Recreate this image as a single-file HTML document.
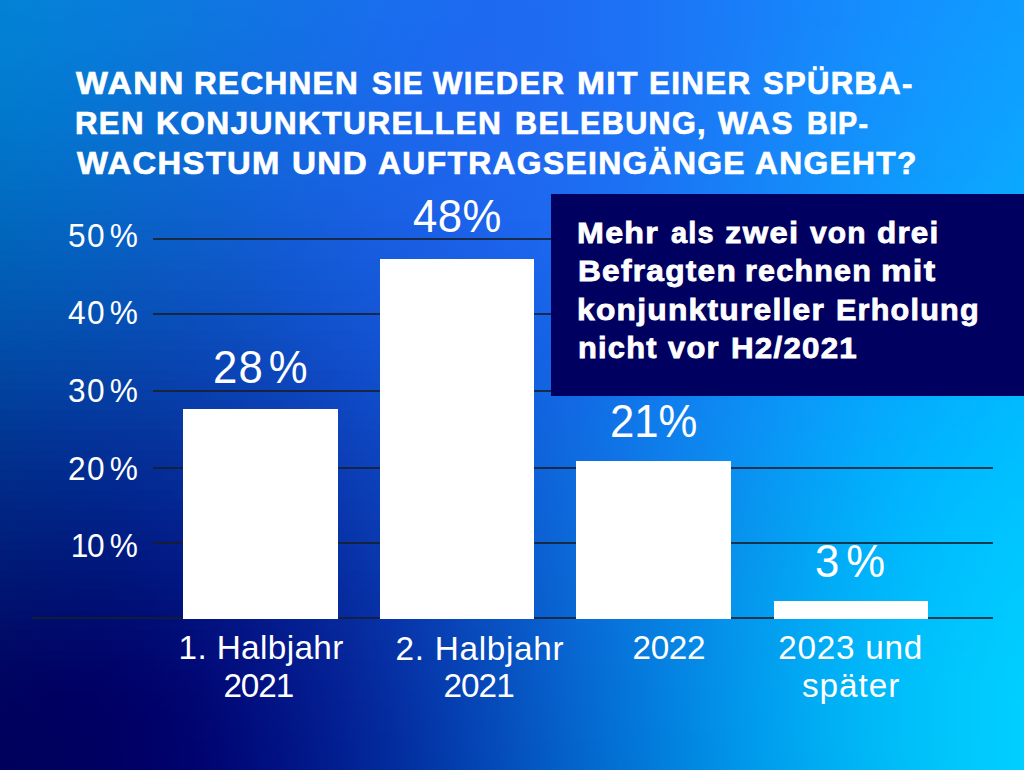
<!DOCTYPE html>
<html><head><meta charset="utf-8">
<style>
html,body{margin:0;padding:0;}
body{width:1024px;height:770px;overflow:hidden;position:relative;background:#0a5bd0;font-family:"Liberation Sans",sans-serif;color:#fff;}
#bg i{position:absolute;left:0;width:1024px;display:block;}
.a{position:absolute;white-space:nowrap;line-height:1;transform-origin:0 0;}
.tt{font-weight:bold;font-size:30.8px;-webkit-text-stroke:0.7px #fff;}
.bt{font-weight:bold;font-size:29.2px;-webkit-text-stroke:0.8px #fff;}
.yl{font-size:34px;letter-spacing:1.559px;transform:scaleX(0.93);}
.vl{font-size:47px;transform:scaleX(0.93);}
.xl{font-size:33.3px;}
.g{position:absolute;height:2px;background:rgba(24,30,40,0.82);}
.bar{position:absolute;background:#fff;}
.box{position:absolute;left:551px;top:194px;width:473px;height:202px;background:#000060;}
</style></head><body>
<div id="bg">
<i style="top:0px;height:10px;background:linear-gradient(90deg,#0282d5 0px,#0581d8 48px,#077eda 96px,#0a7bdc 144px,#0d78df 192px,#1075e2 240px,#1372e5 288px,#1670e9 336px,#196eed 384px,#1b6cef 432px,#1d6af0 480px,#1e6bf1 528px,#1e6df3 576px,#1d71f4 624px,#1c76f6 672px,#1a7bf8 720px,#1881fa 768px,#1687fc 816px,#158dfd 864px,#1392ff 912px,#1196ff 960px,#0f9bff 1008px,#0f9dff 1024px)"></i>
<i style="top:10px;height:10px;background:linear-gradient(90deg,#0281d4 0px,#0580d7 48px,#077dd9 96px,#0a7adc 144px,#0d77de 192px,#1074e1 240px,#1372e5 288px,#166fe9 336px,#196eed 384px,#1b6cef 432px,#1d6af0 480px,#1e6af1 528px,#1e6df3 576px,#1d71f4 624px,#1c76f6 672px,#1a7bf8 720px,#1881f9 768px,#1687fb 816px,#158dfd 864px,#1392ff 912px,#1197ff 960px,#0f9bff 1008px,#0f9dff 1024px)"></i>
<i style="top:20px;height:10px;background:linear-gradient(90deg,#0281d3 0px,#047fd6 48px,#077dd9 96px,#0a7adb 144px,#0d77de 192px,#1074e1 240px,#1371e5 288px,#166fe9 336px,#196ded 384px,#1b6bef 432px,#1d6af0 480px,#1e6af1 528px,#1e6df3 576px,#1d71f4 624px,#1c76f6 672px,#1a7bf7 720px,#1881f9 768px,#1687fb 816px,#148dfd 864px,#1393ff 912px,#1197ff 960px,#0f9cff 1008px,#0e9dff 1024px)"></i>
<i style="top:30px;height:10px;background:linear-gradient(90deg,#0280d3 0px,#047fd6 48px,#077cd8 96px,#0a79db 144px,#0d76dd 192px,#1073e0 240px,#1370e4 288px,#166ee9 336px,#196ded 384px,#1c6bef 432px,#1d69f0 480px,#1e6af1 528px,#1e6df3 576px,#1d71f4 624px,#1c76f6 672px,#1a7bf7 720px,#1881f9 768px,#1688fb 816px,#148efd 864px,#1393ff 912px,#1198ff 960px,#0f9cff 1008px,#0e9eff 1024px)"></i>
<i style="top:40px;height:10px;background:linear-gradient(90deg,#027fd2 0px,#047ed5 48px,#077bd8 96px,#0a78da 144px,#0d75dd 192px,#1072e0 240px,#1370e4 288px,#166ee9 336px,#196cec 384px,#1c6aef 432px,#1e69f0 480px,#1e6af1 528px,#1e6df3 576px,#1d71f4 624px,#1c76f6 672px,#1a7bf7 720px,#1882f9 768px,#1688fb 816px,#148efd 864px,#1294ff 912px,#1098ff 960px,#0f9dff 1008px,#0e9fff 1024px)"></i>
<i style="top:50px;height:10px;background:linear-gradient(90deg,#017fd1 0px,#047dd4 48px,#077ad7 96px,#0a77d9 144px,#0d74dc 192px,#1071e0 240px,#146fe4 288px,#176de8 336px,#196cec 384px,#1c6aef 432px,#1e69f0 480px,#1e6af1 528px,#1e6df2 576px,#1d71f4 624px,#1c76f6 672px,#1a7cf7 720px,#1882f9 768px,#1688fb 816px,#148ffd 864px,#1294ff 912px,#1099ff 960px,#0f9eff 1008px,#0e9fff 1024px)"></i>
<i style="top:60px;height:10px;background:linear-gradient(90deg,#017ed1 0px,#047cd4 48px,#0779d6 96px,#0a76d9 144px,#0d73dc 192px,#1170df 240px,#146ee4 288px,#176ce8 336px,#1a6bec 384px,#1c6aee 432px,#1e69f0 480px,#1f6af1 528px,#1e6cf2 576px,#1d71f4 624px,#1c76f6 672px,#1a7cf7 720px,#1882f9 768px,#1689fb 816px,#148ffd 864px,#1295fe 912px,#1099ff 960px,#0e9eff 1008px,#0ea0ff 1024px)"></i>
<i style="top:70px;height:10px;background:linear-gradient(90deg,#017dd0 0px,#047bd3 48px,#0779d5 96px,#0a75d8 144px,#0d72db 192px,#1170df 240px,#146de3 288px,#176ce8 336px,#1a6aec 384px,#1c69ee 432px,#1e69f0 480px,#1f6af1 528px,#1e6cf2 576px,#1d71f4 624px,#1c76f5 672px,#1a7cf7 720px,#1882f9 768px,#1689fb 816px,#148ffd 864px,#1295fe 912px,#109aff 960px,#0e9fff 1008px,#0ea0ff 1024px)"></i>
<i style="top:80px;height:10px;background:linear-gradient(90deg,#017ccf 0px,#047ad2 48px,#0778d4 96px,#0a74d7 144px,#0e71da 192px,#116fde 240px,#146de3 288px,#176be7 336px,#1a6aeb 384px,#1c69ee 432px,#1e68f0 480px,#1f6af1 528px,#1e6cf2 576px,#1d71f4 624px,#1c76f5 672px,#1a7cf7 720px,#1882f9 768px,#1689fb 816px,#1490fd 864px,#1296fe 912px,#109bff 960px,#0ea0ff 1008px,#0da1ff 1024px)"></i>
<i style="top:90px;height:10px;background:linear-gradient(90deg,#017bce 0px,#0379d1 48px,#0776d4 96px,#0a73d6 144px,#0e70da 192px,#116ede 240px,#146ce2 288px,#176ae7 336px,#1a69eb 384px,#1c68ee 432px,#1e68ef 480px,#1f69f1 528px,#1e6cf2 576px,#1d71f4 624px,#1c76f5 672px,#1a7cf7 720px,#1883f9 768px,#168afb 816px,#1490fd 864px,#1296fe 912px,#109bff 960px,#0ea0ff 1008px,#0da2ff 1024px)"></i>
<i style="top:100px;height:10px;background:linear-gradient(90deg,#017acd 0px,#0378d0 48px,#0775d3 96px,#0a72d5 144px,#0e6fd9 192px,#116ddd 240px,#146be2 288px,#1769e7 336px,#1a68eb 384px,#1c68ed 432px,#1e68ef 480px,#1f69f1 528px,#1e6cf2 576px,#1d71f4 624px,#1c76f5 672px,#1a7cf7 720px,#1883f9 768px,#158afb 816px,#1390fd 864px,#1196fe 912px,#0f9cff 960px,#0ea1ff 1008px,#0da2ff 1024px)"></i>
<i style="top:110px;height:10px;background:linear-gradient(90deg,#0079cc 0px,#0377cf 48px,#0774d2 96px,#0a71d5 144px,#0e6ed8 192px,#116cdd 240px,#146ae2 288px,#1769e6 336px,#1a68ea 384px,#1c67ed 432px,#1e68ef 480px,#1f69f1 528px,#1e6cf2 576px,#1d71f4 624px,#1b76f5 672px,#1a7df7 720px,#1783f9 768px,#158afb 816px,#1391fd 864px,#1197fe 912px,#0f9cff 960px,#0da2ff 1008px,#0da3ff 1024px)"></i>
<i style="top:120px;height:10px;background:linear-gradient(90deg,#0077cb 0px,#0376ce 48px,#0773d1 96px,#0a70d4 144px,#0e6dd7 192px,#116bdc 240px,#1469e1 288px,#1768e6 336px,#1a67ea 384px,#1c67ed 432px,#1e67ef 480px,#1f69f1 528px,#1e6cf2 576px,#1d71f4 624px,#1b76f5 672px,#197df7 720px,#1784f9 768px,#158bfb 816px,#1391fc 864px,#1197fe 912px,#0f9dff 960px,#0da2ff 1008px,#0da4ff 1024px)"></i>
<i style="top:130px;height:10px;background:linear-gradient(90deg,#0076ca 0px,#0374cd 48px,#0772d0 96px,#0a6ed3 144px,#0e6cd6 192px,#116adb 240px,#1468e0 288px,#1767e5 336px,#1a66e9 384px,#1c66ec 432px,#1e67ef 480px,#1f69f0 528px,#1e6cf2 576px,#1d71f4 624px,#1b77f5 672px,#197df7 720px,#1784f8 768px,#158bfb 816px,#1392fc 864px,#1198fe 912px,#0f9eff 960px,#0da3ff 1008px,#0ca5ff 1024px)"></i>
<i style="top:140px;height:10px;background:linear-gradient(90deg,#0074c9 0px,#0373cc 48px,#0770ce 96px,#0a6dd1 144px,#0e6bd5 192px,#1168da 240px,#1467e0 288px,#1766e5 336px,#1a66e9 384px,#1c66ec 432px,#1e67ee 480px,#1e69f0 528px,#1e6cf2 576px,#1d71f4 624px,#1b77f5 672px,#197df7 720px,#1784f8 768px,#158bfa 816px,#1292fc 864px,#1099fe 912px,#0e9efe 960px,#0da4ff 1008px,#0ca5ff 1024px)"></i>
<i style="top:150px;height:10px;background:linear-gradient(90deg,#0173c7 0px,#0371ca 48px,#076fcd 96px,#0a6cd0 144px,#0e69d4 192px,#1167d9 240px,#1466df 288px,#1765e4 336px,#1a65e8 384px,#1c65eb 432px,#1e66ee 480px,#1e69f0 528px,#1e6cf2 576px,#1d71f3 624px,#1b77f5 672px,#197ef7 720px,#1785f8 768px,#148cfa 816px,#1293fc 864px,#1099fe 912px,#0e9ffe 960px,#0ca4ff 1008px,#0ca6ff 1024px)"></i>
<i style="top:160px;height:10px;background:linear-gradient(90deg,#0171c6 0px,#0370c9 48px,#076dcc 96px,#0a6acf 144px,#0e68d3 192px,#1166d9 240px,#1465de 288px,#1764e3 336px,#1a64e7 384px,#1c65eb 432px,#1d66ee 480px,#1e69f0 528px,#1e6cf2 576px,#1c71f3 624px,#1b77f5 672px,#187ef7 720px,#1685f8 768px,#148cfa 816px,#1293fc 864px,#109afd 912px,#0ea0fe 960px,#0ca5ff 1008px,#0ba7ff 1024px)"></i>
<i style="top:170px;height:10px;background:linear-gradient(90deg,#0170c5 0px,#036ec8 48px,#076ccb 96px,#0a69ce 144px,#0e67d2 192px,#1165d7 240px,#1464dd 288px,#1763e2 336px,#1a63e7 384px,#1c64ea 432px,#1d66ed 480px,#1e68ef 528px,#1d6cf1 576px,#1c71f3 624px,#1a77f5 672px,#187ef7 720px,#1686f8 768px,#148dfa 816px,#1194fc 864px,#0f9afd 912px,#0da0fe 960px,#0ca6ff 1008px,#0ba8ff 1024px)"></i>
<i style="top:180px;height:10px;background:linear-gradient(90deg,#016ec3 0px,#036dc6 48px,#076ac9 96px,#0a67cd 144px,#0e65d1 192px,#1164d6 240px,#1463dc 288px,#1762e2 336px,#1963e6 384px,#1b63e9 432px,#1d65ed 480px,#1e68ef 528px,#1d6cf1 576px,#1c71f3 624px,#1a77f5 672px,#187ff7 720px,#1686f8 768px,#138dfa 816px,#1195fc 864px,#0f9bfd 912px,#0da1fe 960px,#0ba7ff 1008px,#0ba8ff 1024px)"></i>
<i style="top:190px;height:10px;background:linear-gradient(90deg,#016cc2 0px,#036bc5 48px,#0768c8 96px,#0a66cb 144px,#0d64d0 192px,#1162d5 240px,#1462db 288px,#1761e1 336px,#1962e5 384px,#1b63e9 432px,#1d65ec 480px,#1d68ef 528px,#1d6cf1 576px,#1b71f3 624px,#1a78f5 672px,#177ff6 720px,#1586f8 768px,#138efa 816px,#1195fc 864px,#0f9cfd 912px,#0da2fe 960px,#0ba7ff 1008px,#0aa9ff 1024px)"></i>
<i style="top:200px;height:10px;background:linear-gradient(90deg,#016ac0 0px,#0369c3 48px,#0767c6 96px,#0a64ca 144px,#0d62ce 192px,#1061d4 240px,#1460da 288px,#1660e0 336px,#1961e4 384px,#1b62e8 432px,#1c64eb 480px,#1d67ee 528px,#1c6bf0 576px,#1b71f2 624px,#1978f4 672px,#177ff6 720px,#1587f8 768px,#138ffa 816px,#1096fc 864px,#0e9cfd 912px,#0ca3fe 960px,#0ba8ff 1008px,#0aaaff 1024px)"></i>
<i style="top:210px;height:10px;background:linear-gradient(90deg,#0169bf 0px,#0367c2 48px,#0765c5 96px,#0a63c8 144px,#0d61cd 192px,#1060d3 240px,#135fd9 288px,#165fde 336px,#1960e3 384px,#1a61e7 432px,#1c63eb 480px,#1d67ee 528px,#1c6bf0 576px,#1b71f2 624px,#1978f4 672px,#1780f6 720px,#1487f8 768px,#128ffa 816px,#1096fc 864px,#0e9dfd 912px,#0ca3fe 960px,#0aa9ff 1008px,#0aabff 1024px)"></i>
<i style="top:220px;height:10px;background:linear-gradient(90deg,#0167bd 0px,#0365c0 48px,#0763c4 96px,#0a61c7 144px,#0d5fcb 192px,#105ed1 240px,#135ed7 288px,#165edd 336px,#185fe2 384px,#1a60e6 432px,#1b63ea 480px,#1c66ed 528px,#1b6bef 576px,#1a71f2 624px,#1878f4 672px,#1680f6 720px,#1488f8 768px,#1290fa 816px,#0f97fc 864px,#0d9efd 912px,#0ba4fe 960px,#0aaaff 1008px,#09acff 1024px)"></i>
<i style="top:230px;height:10px;background:linear-gradient(90deg,#0165bc 0px,#0364bf 48px,#0661c2 96px,#0a5fc5 144px,#0d5eca 192px,#105dd0 240px,#135dd6 288px,#155ddc 336px,#185ee1 384px,#1a60e5 432px,#1b62e9 480px,#1b66ec 528px,#1b6aef 576px,#1a71f1 624px,#1878f4 672px,#1680f6 720px,#1488f8 768px,#1190fa 816px,#0f98fc 864px,#0d9ffd 912px,#0ba5fe 960px,#09abff 1008px,#09acff 1024px)"></i>
<i style="top:240px;height:10px;background:linear-gradient(90deg,#0163ba 0px,#0362bd 48px,#0660c0 96px,#095dc4 144px,#0c5cc8 192px,#0f5bce 240px,#125bd4 288px,#155cdb 336px,#175de0 384px,#195fe4 432px,#1a61e8 480px,#1b65ec 528px,#1a6aee 576px,#1971f1 624px,#1878f4 672px,#1581f6 720px,#1389f8 768px,#1191fa 816px,#0f98fc 864px,#0c9ffd 912px,#0ba6fe 960px,#09abff 1008px,#09adff 1024px)"></i>
<i style="top:250px;height:10px;background:linear-gradient(90deg,#0161b9 0px,#0360bc 48px,#065ebf 96px,#095cc2 144px,#0c5ac7 192px,#0f5acc 240px,#125ad3 288px,#155bd9 336px,#175cdf 384px,#195ee3 432px,#1a61e7 480px,#1a64eb 528px,#1a6aee 576px,#1971f1 624px,#1779f3 672px,#1581f6 720px,#1389f8 768px,#1092fa 816px,#0e99fc 864px,#0ca0fd 912px,#0aa6fe 960px,#09acff 1008px,#08aeff 1024px)"></i>
<i style="top:260px;height:10px;background:linear-gradient(90deg,#015fb7 0px,#035eba 48px,#065cbd 96px,#095ac0 144px,#0c59c5 192px,#0f58cb 240px,#1159d1 288px,#145ad8 336px,#175bdd 384px,#185de2 432px,#1960e6 480px,#1a64ea 528px,#196aed 576px,#1871f0 624px,#1779f3 672px,#1581f6 720px,#128af8 768px,#1092fa 816px,#0e9afc 864px,#0ba1fd 912px,#0aa7fe 960px,#08adff 1008px,#08afff 1024px)"></i>
<i style="top:270px;height:10px;background:linear-gradient(90deg,#015db5 0px,#035cb8 48px,#065abb 96px,#0958bf 144px,#0c57c3 192px,#0e57c9 240px,#1157d0 288px,#1459d6 336px,#165adc 384px,#185ce1 432px,#195fe5 480px,#1963e9 528px,#1969ed 576px,#1871f0 624px,#1679f3 672px,#1482f6 720px,#128bf8 768px,#0f93fa 816px,#0d9bfc 864px,#0ba2fd 912px,#09a8fe 960px,#08aeff 1008px,#07b0ff 1024px)"></i>
<i style="top:280px;height:10px;background:linear-gradient(90deg,#015bb3 0px,#035ab7 48px,#0658ba 96px,#0956bd 144px,#0b55c1 192px,#0e55c7 240px,#1156ce 288px,#1357d5 336px,#1659db 384px,#175be0 432px,#185ee4 480px,#1963e8 528px,#1869ec 576px,#1771ef 624px,#1679f2 672px,#1482f5 720px,#118bf8 768px,#0f94fa 816px,#0d9bfc 864px,#0aa3fd 912px,#09a9fe 960px,#07afff 1008px,#07b1ff 1024px)"></i>
<i style="top:290px;height:10px;background:linear-gradient(90deg,#0159b2 0px,#0358b5 48px,#0656b8 96px,#0854bb 144px,#0b53c0 192px,#0d53c5 240px,#1054cc 288px,#1356d3 336px,#1558d9 384px,#175bdf 432px,#185ee3 480px,#1862e8 528px,#1769eb 576px,#1771ef 624px,#157af2 672px,#1383f5 720px,#118cf8 768px,#0e94fa 816px,#0c9cfc 864px,#0aa3fd 912px,#08aafe 960px,#07b0ff 1008px,#06b1ff 1024px)"></i>
<i style="top:300px;height:10px;background:linear-gradient(90deg,#0157b0 0px,#0356b3 48px,#0554b6 96px,#0852b9 144px,#0b51be 192px,#0d51c3 240px,#1053ca 288px,#1355d2 336px,#1557d8 384px,#165add 432px,#175de2 480px,#1762e7 528px,#1768eb 576px,#1671ee 624px,#157af2 672px,#1383f5 720px,#108cf8 768px,#0e95fa 816px,#0c9dfc 864px,#09a4fd 912px,#08abfe 960px,#06b1ff 1008px,#06b2ff 1024px)"></i>
<i style="top:310px;height:10px;background:linear-gradient(90deg,#0155ae 0px,#0353b1 48px,#0551b4 96px,#0850b7 144px,#0a4fbc 192px,#0d50c2 240px,#0f51c9 288px,#1253d0 336px,#1456d6 384px,#1659dc 432px,#165ce1 480px,#1761e6 528px,#1668ea 576px,#1571ee 624px,#147af2 672px,#1284f5 720px,#108df8 768px,#0d96fa 816px,#0b9efc 864px,#09a5fd 912px,#07acfe 960px,#06b1ff 1008px,#06b3ff 1024px)"></i>
<i style="top:320px;height:10px;background:linear-gradient(90deg,#0152ac 0px,#0351af 48px,#054fb2 96px,#084eb5 144px,#0a4dba 192px,#0d4ec0 240px,#0f4fc7 288px,#1252ce 336px,#1455d5 384px,#1558db 432px,#165ce0 480px,#1661e5 528px,#1668e9 576px,#1571ed 624px,#137bf1 672px,#1284f5 720px,#0f8ef8 768px,#0d97fa 816px,#0a9ffc 864px,#08a6fd 912px,#07acfe 960px,#05b2ff 1008px,#05b4ff 1024px)"></i>
<i style="top:330px;height:10px;background:linear-gradient(90deg,#0150aa 0px,#034fad 48px,#054db0 96px,#084bb3 144px,#0a4bb8 192px,#0c4cbe 240px,#0f4ec5 288px,#1150cc 336px,#1354d3 384px,#1457da 432px,#155bdf 480px,#1560e4 528px,#1568e9 576px,#1471ed 624px,#137bf1 672px,#1185f4 720px,#0f8ef7 768px,#0c97fa 816px,#0aa0fc 864px,#08a7fd 912px,#06adfe 960px,#05b3ff 1008px,#05b5ff 1024px)"></i>
<i style="top:340px;height:10px;background:linear-gradient(90deg,#014da8 0px,#034cab 48px,#054aae 96px,#0749b1 144px,#0a49b6 192px,#0c4abc 240px,#0e4cc3 288px,#114fcb 336px,#1352d2 384px,#1456d8 432px,#155bde 480px,#1560e3 528px,#1568e8 576px,#1472ec 624px,#127bf0 672px,#1185f4 720px,#0e8ff7 768px,#0c98fa 816px,#09a0fc 864px,#07a8fd 912px,#06aefe 960px,#05b4ff 1008px,#04b6ff 1024px)"></i>
<i style="top:350px;height:10px;background:linear-gradient(90deg,#014ba6 0px,#034aa9 48px,#0548ab 96px,#0747af 144px,#0947b4 192px,#0c48ba 240px,#0e4ac1 288px,#104ec9 336px,#1251d0 384px,#1355d7 432px,#145add 480px,#1460e2 528px,#1468e7 576px,#1372ec 624px,#127cf0 672px,#1086f4 720px,#0e90f7 768px,#0b99fa 816px,#09a1fc 864px,#07a9fd 912px,#05affe 960px,#04b5ff 1008px,#04b7ff 1024px)"></i>
<i style="top:360px;height:10px;background:linear-gradient(90deg,#0148a3 0px,#0347a6 48px,#0546a9 96px,#0745ad 144px,#0945b2 192px,#0b46b8 240px,#0e49bf 288px,#104cc7 336px,#1250ce 384px,#1355d5 432px,#145adc 480px,#1460e1 528px,#1369e6 576px,#1372eb 624px,#117cf0 672px,#1086f3 720px,#0d90f7 768px,#0b9afa 816px,#08a2fc 864px,#06aafd 912px,#05b0fe 960px,#04b6ff 1008px,#03b7ff 1024px)"></i>
<i style="top:370px;height:10px;background:linear-gradient(90deg,#0146a1 0px,#0344a4 48px,#0543a7 96px,#0742ab 144px,#0943b0 192px,#0b44b6 240px,#0d47bd 288px,#0f4ac5 336px,#114fcd 384px,#1254d4 432px,#135ada 480px,#1360e0 528px,#1369e6 576px,#1273eb 624px,#117def 672px,#0f87f3 720px,#0d91f7 768px,#0a9afa 816px,#08a3fc 864px,#06aafd 912px,#04b1fe 960px,#03b7ff 1008px,#03b8ff 1024px)"></i>
<i style="top:380px;height:10px;background:linear-gradient(90deg,#01439f 0px,#0342a2 48px,#0541a5 96px,#0740a8 144px,#0940ad 192px,#0b42b4 240px,#0d45bb 288px,#0f49c3 336px,#104ecb 384px,#1253d3 432px,#1259d9 480px,#1361df 528px,#1269e5 576px,#1273ea 624px,#117def 672px,#0f88f3 720px,#0c92f7 768px,#0a9bfa 816px,#07a4fc 864px,#05abfe 912px,#04b2fe 960px,#03b7ff 1008px,#03b9ff 1024px)"></i>
<i style="top:390px;height:10px;background:linear-gradient(90deg,#01409d 0px,#033fa0 48px,#043ea2 96px,#063ea6 144px,#083eab 192px,#0a40b2 240px,#0c43b9 288px,#0e47c2 336px,#104cca 384px,#1152d1 432px,#1259d8 480px,#1261de 528px,#126ae4 576px,#1173e9 624px,#107eee 672px,#0e88f2 720px,#0c92f6 768px,#099cfa 816px,#07a5fc 864px,#05acfe 912px,#03b3fe 960px,#02b8ff 1008px,#02baff 1024px)"></i>
<i style="top:400px;height:10px;background:linear-gradient(90deg,#013e9a 0px,#033d9d 48px,#043ca0 96px,#063ba4 144px,#083ca9 192px,#0a3eb0 240px,#0c41b7 288px,#0e46c0 336px,#0f4bc8 384px,#1151d0 432px,#1158d7 480px,#1261de 528px,#116ae4 576px,#1174e9 624px,#107eee 672px,#0e89f2 720px,#0b93f6 768px,#099df9 816px,#06a6fc 864px,#04adfe 912px,#03b4fe 960px,#02b9ff 1008px,#02bbff 1024px)"></i>
<i style="top:410px;height:10px;background:linear-gradient(90deg,#013b98 0px,#023a9b 48px,#04399e 96px,#0639a1 144px,#083aa7 192px,#0a3cae 240px,#0b40b5 288px,#0d44be 336px,#0f4ac6 384px,#1050ce 432px,#1158d6 480px,#1161dd 528px,#116ae3 576px,#1074e8 624px,#0f7fed 672px,#0d89f2 720px,#0b94f6 768px,#089ef9 816px,#06a7fc 864px,#04aefe 912px,#02b4fe 960px,#02baff 1008px,#02bbff 1024px)"></i>
<i style="top:420px;height:10px;background:linear-gradient(90deg,#013996 0px,#023799 48px,#04379c 96px,#06379f 144px,#0738a5 192px,#093aac 240px,#0b3eb3 288px,#0d43bc 336px,#0e49c5 384px,#1050cd 432px,#1058d4 480px,#1161dc 528px,#106be2 576px,#1075e8 624px,#0f7fed 672px,#0d8af1 720px,#0b94f6 768px,#089ef9 816px,#05a7fc 864px,#03affe 912px,#02b5ff 960px,#01bbff 1008px,#01bcff 1024px)"></i>
<i style="top:430px;height:10px;background:linear-gradient(90deg,#013693 0px,#023596 48px,#043499 96px,#05349d 144px,#0735a2 192px,#0938a9 240px,#0b3cb2 288px,#0c41ba 336px,#0e47c3 384px,#0f4fcb 432px,#1057d3 480px,#1061db 528px,#106be1 576px,#0f75e7 624px,#0e7fec 672px,#0d8af1 720px,#0a95f5 768px,#079ff9 816px,#05a8fc 864px,#03b0fe 912px,#02b6ff 960px,#01bbff 1008px,#01bdff 1024px)"></i>
<i style="top:440px;height:10px;background:linear-gradient(90deg,#013491 0px,#023294 48px,#033297 96px,#05329b 144px,#0733a0 192px,#0836a7 240px,#0a3ab0 288px,#0c40b8 336px,#0e46c1 384px,#0f4eca 432px,#1057d2 480px,#1061da 528px,#106be1 576px,#0f75e6 624px,#0e80ec 672px,#0c8af0 720px,#0a95f5 768px,#07a0f9 816px,#04a9fc 864px,#02b1fe 912px,#01b7ff 960px,#01bcff 1008px,#01beff 1024px)"></i>
<i style="top:450px;height:10px;background:linear-gradient(90deg,#01318f 0px,#023092 48px,#032f95 96px,#053099 144px,#06319e 192px,#0834a5 240px,#0a38ae 288px,#0c3eb6 336px,#0d45bf 384px,#0e4dc8 432px,#0f56d1 480px,#0f61d9 528px,#0f6be0 576px,#0f75e6 624px,#0e80eb 672px,#0c8bf0 720px,#0996f4 768px,#06a0f9 816px,#04aafc 864px,#02b2fe 912px,#01b8ff 960px,#00bdff 1008px,#00beff 1024px)"></i>
<i style="top:460px;height:10px;background:linear-gradient(90deg,#012f8d 0px,#022e8f 48px,#032d92 96px,#042d96 144px,#062f9c 192px,#0832a3 240px,#0937ac 288px,#0b3db5 336px,#0d44be 384px,#0e4cc7 432px,#0f56d0 480px,#0f60d8 528px,#0f6bdf 576px,#0e76e5 624px,#0d80ea 672px,#0b8bef 720px,#0996f4 768px,#06a1f8 816px,#03abfc 864px,#02b3fe 912px,#01b9ff 960px,#00beff 1008px,#00bfff 1024px)"></i>
<i style="top:470px;height:10px;background:linear-gradient(90deg,#012d8a 0px,#012b8d 48px,#022b90 96px,#042b94 144px,#062d9a 192px,#0730a1 240px,#0935aa 288px,#0b3bb3 336px,#0c42bc 384px,#0d4bc5 432px,#0e55ce 480px,#0f60d7 528px,#0e6bde 576px,#0e76e4 624px,#0d81ea 672px,#0b8bef 720px,#0997f3 768px,#06a2f8 816px,#03acfc 864px,#01b4fe 912px,#00baff 960px,#00bfff 1008px,#00c0ff 1024px)"></i>
<i style="top:480px;height:10px;background:linear-gradient(90deg,#012a88 0px,#01298b 48px,#02298e 96px,#032992 144px,#052b98 192px,#072e9f 240px,#0933a8 288px,#0a39b1 336px,#0c41ba 384px,#0d4ac4 432px,#0e55cd 480px,#0e60d6 528px,#0e6bdd 576px,#0d76e4 624px,#0c81e9 672px,#0b8cee 720px,#0897f3 768px,#05a2f8 816px,#02acfc 864px,#01b5fe 912px,#00bbff 960px,#00c0ff 1008px,#00c1ff 1024px)"></i>
<i style="top:490px;height:10px;background:linear-gradient(90deg,#012886 0px,#012788 48px,#01268c 96px,#032790 144px,#052996 192px,#072c9d 240px,#0831a6 288px,#0a38af 336px,#0b40b9 384px,#0d49c3 432px,#0d54cc 480px,#0e5fd5 528px,#0e6bdd 576px,#0d76e3 624px,#0c81e9 672px,#0a8cee 720px,#0898f2 768px,#05a3f7 816px,#02adfb 864px,#01b6fe 912px,#00bcff 960px,#00c1ff 1008px,#00c2ff 1024px)"></i>
<i style="top:500px;height:10px;background:linear-gradient(90deg,#002683 0px,#012586 48px,#01248a 96px,#03258e 144px,#042693 192px,#062a9b 240px,#0830a4 288px,#0936ad 336px,#0b3fb7 384px,#0c49c1 432px,#0d53cb 480px,#0e5fd4 528px,#0d6bdc 576px,#0d76e2 624px,#0b81e8 672px,#0a8ded 720px,#0798f2 768px,#05a4f7 816px,#02aefb 864px,#01b6fe 912px,#00bdff 960px,#00c2ff 1008px,#00c3ff 1024px)"></i>
<i style="top:510px;height:10px;background:linear-gradient(90deg,#002481 0px,#012384 48px,#012287 96px,#02228c 144px,#042491 192px,#062899 240px,#072ea2 288px,#0935ab 336px,#0b3eb5 384px,#0c48c0 432px,#0d53ca 480px,#0d5fd3 528px,#0d6bdb 576px,#0c76e2 624px,#0b82e8 672px,#098dec 720px,#0799f1 768px,#04a4f7 816px,#02affb 864px,#01b7fd 912px,#00beff 960px,#00c2ff 1008px,#00c4ff 1024px)"></i>
<i style="top:520px;height:10px;background:linear-gradient(90deg,#00227f 0px,#002182 48px,#012085 96px,#022089 144px,#04228f 192px,#052697 240px,#072ca0 288px,#0933aa 336px,#0a3cb4 384px,#0b47be 432px,#0c52c8 480px,#0d5ed2 528px,#0d6ada 576px,#0c76e1 624px,#0b82e7 672px,#098dec 720px,#0799f1 768px,#04a5f6 816px,#02affb 864px,#00b8fd 912px,#00bfff 960px,#00c3ff 1008px,#00c5ff 1024px)"></i>
<i style="top:530px;height:10px;background:linear-gradient(90deg,#00207d 0px,#001f7f 48px,#001e83 96px,#021e87 144px,#03208d 192px,#052495 240px,#072a9e 288px,#0832a8 336px,#0a3bb2 384px,#0b46bd 432px,#0c52c7 480px,#0c5ed1 528px,#0c6ada 576px,#0c76e1 624px,#0a82e7 672px,#088eec 720px,#069af1 768px,#04a5f6 816px,#02b0fa 864px,#00b9fd 912px,#00bfff 960px,#00c4ff 1008px,#00c6ff 1024px)"></i>
<i style="top:540px;height:10px;background:linear-gradient(90deg,#001e7a 0px,#001d7d 48px,#001c80 96px,#011c85 144px,#031e8b 192px,#052393 240px,#06299c 288px,#0831a6 336px,#093ab1 384px,#0b45bb 432px,#0c51c6 480px,#0c5dd0 528px,#0c6ad9 576px,#0b76e0 624px,#0a82e6 672px,#088eeb 720px,#069af1 768px,#03a6f6 816px,#01b0fa 864px,#00b9fd 912px,#00c0ff 960px,#00c5ff 1008px,#00c6ff 1024px)"></i>
<i style="top:550px;height:10px;background:linear-gradient(90deg,#001c78 0px,#001b7b 48px,#00197e 96px,#011a83 144px,#031c89 192px,#042191 240px,#06279a 288px,#082fa4 336px,#0939af 384px,#0a44ba 432px,#0b50c5 480px,#0c5dcf 528px,#0c6ad8 576px,#0b76e0 624px,#0983e6 672px,#088feb 720px,#069bf0 768px,#03a7f6 816px,#01b1fa 864px,#00bafd 912px,#00c1fe 960px,#00c6ff 1008px,#00c7ff 1024px)"></i>
<i style="top:560px;height:10px;background:linear-gradient(90deg,#001a76 0px,#001878 48px,#00177c 96px,#011881 144px,#031a87 192px,#041f8f 240px,#062698 288px,#072ea3 336px,#0938ad 384px,#0a43b9 432px,#0b50c4 480px,#0b5dce 528px,#0b6ad8 576px,#0a76df 624px,#0983e5 672px,#078feb 720px,#059bf0 768px,#03a7f5 816px,#01b2fa 864px,#00bafc 912px,#00c1fe 960px,#00c6ff 1008px,#00c8ff 1024px)"></i>
<i style="top:570px;height:10px;background:linear-gradient(90deg,#001874 0px,#001676 48px,#00157a 96px,#01167e 144px,#021885 192px,#041d8d 240px,#052497 288px,#072ca1 336px,#0836ac 384px,#0a42b7 432px,#0b4fc3 480px,#0b5cce 528px,#0b69d7 576px,#0a76df 624px,#0983e5 672px,#078feb 720px,#059cf0 768px,#03a8f5 816px,#01b2f9 864px,#00bbfc 912px,#00c2fe 960px,#00c7ff 1008px,#00c8ff 1024px)"></i>
<i style="top:580px;height:10px;background:linear-gradient(90deg,#001672 0px,#001474 48px,#001377 96px,#01147c 144px,#021783 192px,#041c8c 240px,#052395 288px,#072b9f 336px,#0835ab 384px,#0941b6 432px,#0a4ec2 480px,#0b5ccd 528px,#0b69d6 576px,#0a76de 624px,#0883e5 672px,#0690eb 720px,#049cf0 768px,#03a8f5 816px,#01b3f9 864px,#00bbfc 912px,#00c2fe 960px,#00c7ff 1008px,#00c9ff 1024px)"></i>
<i style="top:590px;height:10px;background:linear-gradient(90deg,#001470 0px,#001272 48px,#001175 96px,#01127a 144px,#021581 192px,#031a8a 240px,#052194 288px,#062a9e 336px,#0834a9 384px,#0940b5 432px,#0a4ec1 480px,#0a5bcc 528px,#0a69d6 576px,#0976de 624px,#0883e4 672px,#0690ea 720px,#049df0 768px,#02a9f5 816px,#01b3f9 864px,#00bcfc 912px,#00c3fe 960px,#00c8ff 1008px,#00caff 1024px)"></i>
<i style="top:600px;height:10px;background:linear-gradient(90deg,#00126e 0px,#001070 48px,#000f73 96px,#011078 144px,#02137f 192px,#031888 240px,#052092 288px,#06299d 336px,#0733a8 384px,#0940b4 432px,#0a4dc0 480px,#0a5bcb 528px,#0a68d5 576px,#0976dd 624px,#0783e4 672px,#0690ea 720px,#049df0 768px,#02a9f5 816px,#01b4f9 864px,#00bcfc 912px,#00c3fe 960px,#00c9ff 1008px,#00caff 1024px)"></i>
<i style="top:610px;height:10px;background:linear-gradient(90deg,#00106c 0px,#000e6e 48px,#000d71 96px,#010e76 144px,#02117d 192px,#031787 240px,#041e91 288px,#06289b 336px,#0732a7 384px,#083fb3 432px,#094cbf 480px,#0a5aca 528px,#0968d4 576px,#0876dd 624px,#0783e4 672px,#0590ea 720px,#049df0 768px,#02a9f5 816px,#01b4f9 864px,#00bdfc 912px,#00c4fe 960px,#00c9ff 1008px,#00cbff 1024px)"></i>
<i style="top:620px;height:10px;background:linear-gradient(90deg,#000e6a 0px,#000c6c 48px,#000b6f 96px,#010c74 144px,#01107c 192px,#031585 240px,#041d8f 288px,#06279a 336px,#0731a6 384px,#083eb2 432px,#094cbe 480px,#095ac9 528px,#0968d4 576px,#0876dc 624px,#0683e4 672px,#0591ea 720px,#039ef0 768px,#02aaf4 816px,#01b5f8 864px,#00bdfb 912px,#00c4fe 960px,#00caff 1008px,#00cbff 1024px)"></i>
<i style="top:630px;height:10px;background:linear-gradient(90deg,#000c68 0px,#000a6a 48px,#00096d 96px,#000a72 144px,#010e7a 192px,#021484 240px,#041c8e 288px,#052699 336px,#0731a5 384px,#083db1 432px,#084bbd 480px,#0959c9 528px,#0868d3 576px,#0775dc 624px,#0683e3 672px,#0491ea 720px,#039eef 768px,#02aaf4 816px,#01b5f8 864px,#00befb 912px,#00c5fe 960px,#00caff 1008px,#00ccff 1024px)"></i>
<i style="top:640px;height:10px;background:linear-gradient(90deg,#000a66 0px,#000868 48px,#00076b 96px,#000971 144px,#010c78 192px,#021382 240px,#041b8d 288px,#052598 336px,#0630a4 384px,#073db0 432px,#084abc 480px,#0859c8 528px,#0867d2 576px,#0775db 624px,#0683e3 672px,#0491ea 720px,#039eef 768px,#02abf4 816px,#01b5f8 864px,#00befb 912px,#00c5fd 960px,#00cbff 1008px,#00ccff 1024px)"></i>
<i style="top:650px;height:10px;background:linear-gradient(90deg,#000865 0px,#000666 48px,#00056a 96px,#00076f 144px,#010b77 192px,#021281 240px,#031a8c 288px,#052497 336px,#062fa3 384px,#073caf 432px,#084abb 480px,#0858c7 528px,#0867d2 576px,#0775db 624px,#0583e3 672px,#0491e9 720px,#029eef 768px,#01abf4 816px,#01b6f8 864px,#00bffb 912px,#00c6fd 960px,#00cbff 1008px,#00cdff 1024px)"></i>
<i style="top:660px;height:10px;background:linear-gradient(90deg,#000663 0px,#000464 48px,#000468 96px,#00056d 144px,#010a76 192px,#021080 240px,#03198b 288px,#042396 336px,#062ea2 384px,#073bae 432px,#0749ba 480px,#0858c6 528px,#0767d1 576px,#0675da 624px,#0583e2 672px,#0391e9 720px,#029fef 768px,#01abf4 816px,#01b6f8 864px,#00bffb 912px,#00c6fd 960px,#00ccff 1008px,#00cdff 1024px)"></i>
<i style="top:670px;height:10px;background:linear-gradient(90deg,#000562 0px,#000363 48px,#000267 96px,#00046c 144px,#010874 192px,#020f7f 240px,#03188a 288px,#042296 336px,#052ea1 384px,#063bad 432px,#0749ba 480px,#0758c6 528px,#0766d1 576px,#0675da 624px,#0483e2 672px,#0391e9 720px,#029fef 768px,#01abf4 816px,#00b6f8 864px,#00bffb 912px,#00c7fd 960px,#00ccff 1008px,#00ceff 1024px)"></i>
<i style="top:680px;height:10px;background:linear-gradient(90deg,#000461 0px,#000162 48px,#000165 96px,#00036b 144px,#010773 192px,#010e7e 240px,#021789 288px,#042195 336px,#052da1 384px,#063aac 432px,#0748b9 480px,#0757c5 528px,#0666d0 576px,#0574da 624px,#0483e2 672px,#0391e9 720px,#029fef 768px,#01acf4 816px,#00b6f7 864px,#00c0fb 912px,#00c7fd 960px,#00cdff 1008px,#00ceff 1024px)"></i>
<i style="top:690px;height:10px;background:linear-gradient(90deg,#000360 0px,#000061 48px,#000064 96px,#00026a 144px,#000672 192px,#010e7d 240px,#021689 288px,#042194 336px,#052ca0 384px,#0539ac 432px,#0648b8 480px,#0657c4 528px,#0666d0 576px,#0574d9 624px,#0482e1 672px,#0291e9 720px,#019fef 768px,#01acf3 816px,#00b7f7 864px,#00c0fa 912px,#00c7fd 960px,#00cdff 1008px,#00ceff 1024px)"></i>
<i style="top:700px;height:10px;background:linear-gradient(90deg,#00025f 0px,#000060 48px,#000064 96px,#000169 144px,#000671 192px,#010d7c 240px,#021688 288px,#032094 336px,#042c9f 384px,#0539ab 432px,#0647b7 480px,#0657c4 528px,#0665cf 576px,#0574d9 624px,#0382e1 672px,#0291e8 720px,#019fef 768px,#01acf3 816px,#00b7f7 864px,#00c0fa 912px,#00c7fd 960px,#00cdff 1008px,#00cfff 1024px)"></i>
<i style="top:710px;height:10px;background:linear-gradient(90deg,#00015e 0px,#000060 48px,#000063 96px,#000068 144px,#000571 192px,#010c7c 240px,#021587 288px,#032093 336px,#042b9e 384px,#0538aa 432px,#0547b7 480px,#0656c3 528px,#0565ce 576px,#0474d8 624px,#0382e1 672px,#0291e8 720px,#019fee 768px,#00acf3 816px,#00b7f7 864px,#00c0fa 912px,#00c7fd 960px,#00cdff 1008px,#00cfff 1024px)"></i>
<i style="top:720px;height:10px;background:linear-gradient(90deg,#00005e 0px,#000060 48px,#000062 96px,#000067 144px,#000470 192px,#010c7b 240px,#011587 288px,#031f92 336px,#042b9e 384px,#0438a9 432px,#0546b6 480px,#0656c3 528px,#0565ce 576px,#0473d8 624px,#0382e0 672px,#0291e8 720px,#019fee 768px,#00acf3 816px,#00b7f7 864px,#00c0fa 912px,#00c7fd 960px,#00cdff 1008px,#00cfff 1024px)"></i>
<i style="top:730px;height:10px;background:linear-gradient(90deg,#00005e 0px,#00005f 48px,#000062 96px,#000067 144px,#000470 192px,#000b7b 240px,#011486 288px,#021f92 336px,#032a9d 384px,#0437a9 432px,#0546b5 480px,#0556c2 528px,#0565cd 576px,#0473d7 624px,#0281e0 672px,#0190e8 720px,#009fee 768px,#00acf3 816px,#00b7f6 864px,#00c0fa 912px,#00c7fd 960px,#00cdff 1008px,#00cfff 1024px)"></i>
<i style="top:740px;height:10px;background:linear-gradient(90deg,#00005d 0px,#00005f 48px,#000062 96px,#000067 144px,#00036f 192px,#000b7a 240px,#011486 288px,#021e91 336px,#032a9c 384px,#0437a8 432px,#0546b5 480px,#0555c2 528px,#0464cd 576px,#0373d7 624px,#0281df 672px,#0190e7 720px,#009fee 768px,#00acf2 816px,#00b7f6 864px,#00c0f9 912px,#00c7fc 960px,#00cdff 1008px,#00cfff 1024px)"></i>
<i style="top:750px;height:10px;background:linear-gradient(90deg,#00005d 0px,#00005f 48px,#000061 96px,#000067 144px,#00036f 192px,#000a7a 240px,#011385 288px,#021e91 336px,#032a9c 384px,#0337a8 432px,#0446b4 480px,#0555c1 528px,#0464cc 576px,#0373d6 624px,#0281df 672px,#0190e7 720px,#009fed 768px,#00abf2 816px,#00b6f6 864px,#00c0f9 912px,#00c7fc 960px,#00cdff 1008px,#00cfff 1024px)"></i>
<i style="top:760px;height:10px;background:linear-gradient(90deg,#00005c 0px,#00005e 48px,#000061 96px,#000067 144px,#00036f 192px,#000a79 240px,#011385 288px,#021e90 336px,#022a9b 384px,#0337a7 432px,#0445b4 480px,#0455c1 528px,#0464cc 576px,#0372d6 624px,#0281de 672px,#0190e6 720px,#009eed 768px,#00abf2 816px,#00b6f5 864px,#00bff9 912px,#00c7fc 960px,#00cdff 1008px,#00cfff 1024px)"></i>
</div>
<div class="a tt" style="left:76.3px;top:69.2px;letter-spacing:1.30px;transform:scaleX(1.0945)">WANN</div>
<div class="a tt" style="left:194.2px;top:69.2px;letter-spacing:1.30px;transform:scaleX(1.0223)">RECHNEN</div>
<div class="a tt" style="left:372.0px;top:69.2px;letter-spacing:1.30px;transform:scaleX(0.9679)">SIE</div>
<div class="a tt" style="left:433.0px;top:69.2px;letter-spacing:1.30px;transform:scaleX(1.0100)">WIEDER</div>
<div class="a tt" style="left:576.9px;top:69.2px;letter-spacing:1.30px;transform:scaleX(1.0890)">MIT</div>
<div class="a tt" style="left:649.3px;top:69.2px;letter-spacing:1.30px;transform:scaleX(1.0197)">EINER</div>
<div class="a tt" style="left:763.0px;top:69.2px;letter-spacing:1.30px;transform:scaleX(1.0076)">SPÜRBA-</div>
<div class="a tt" style="left:75.1px;top:109.0px;letter-spacing:1.30px;transform:scaleX(1.0129)">REN</div>
<div class="a tt" style="left:155.6px;top:109.0px;letter-spacing:1.30px;transform:scaleX(1.0306)">KONJUNKTURELLEN</div>
<div class="a tt" style="left:514.5px;top:109.0px;letter-spacing:1.30px;transform:scaleX(0.9934)">BELEBUNG,</div>
<div class="a tt" style="left:718.3px;top:109.0px;letter-spacing:1.30px;transform:scaleX(1.0245)">WAS</div>
<div class="a tt" style="left:807.4px;top:109.0px;letter-spacing:1.30px;transform:scaleX(0.9319)">BIP-</div>
<div class="a tt" style="left:76.7px;top:148.6px;letter-spacing:1.30px;transform:scaleX(1.0622)">WACHSTUM</div>
<div class="a tt" style="left:291.5px;top:148.6px;letter-spacing:1.30px;transform:scaleX(1.0757)">UND</div>
<div class="a tt" style="left:377.6px;top:148.6px;letter-spacing:1.30px;transform:scaleX(1.0328)">AUFTRAGSEINGÄNGE</div>
<div class="a tt" style="left:755.0px;top:148.6px;letter-spacing:1.30px;transform:scaleX(1.0300)">ANGEHT?</div>

<div class="g" style="left:153px;width:840px;top:238px"></div>
<div class="g" style="left:153px;width:840px;top:313px"></div>
<div class="g" style="left:153px;width:840px;top:389.5px"></div>
<div class="g" style="left:153px;width:840px;top:466.6px"></div>
<div class="g" style="left:153px;width:840px;top:542.3px"></div>
<div class="g" style="left:32px;width:961px;top:617px"></div>

<div class="a yl" style="left:68.1px;top:217.8px">50<span style="margin-left:4px">%</span></div>
<div class="a yl" style="left:68.1px;top:295px">40<span style="margin-left:4px">%</span></div>
<div class="a yl" style="left:68.1px;top:372.8px">30<span style="margin-left:4px">%</span></div>
<div class="a yl" style="left:68.1px;top:450.5px">20<span style="margin-left:4px">%</span></div>
<div class="a yl" style="left:68.1px;top:527.6px"><span style="margin-left:3px;letter-spacing:-1.44px">1</span>0<span style="margin-left:4px">%</span></div>

<div class="bar" style="left:183.4px;width:154.3px;top:408.6px;height:210px"></div>
<div class="bar" style="left:380.2px;width:154.2px;top:259.1px;height:359.5px"></div>
<div class="bar" style="left:576.4px;width:154.5px;top:460.8px;height:157.8px"></div>
<div class="bar" style="left:773.7px;width:154.1px;top:601.2px;height:17.4px"></div>

<div class="a vl" style="left:213.2px;top:342.5px;letter-spacing:1.29px">28<span style="margin-left:5px">%</span></div>
<div class="a vl" style="left:413px;top:192.2px;letter-spacing:0.43px">48%</div>
<div class="a vl" style="left:609.7px;top:396.6px;letter-spacing:-0.054px">21%</div>
<div class="a vl" style="left:815px;top:536.6px;letter-spacing:2.581px">3<span style="margin-left:5px">%</span></div>

<div class="a xl" style="left:178.5px;top:631.3px;letter-spacing:0.38px">1. Halbjahr</div>
<div class="a xl" style="left:223.4px;top:669px;letter-spacing:-1.067px">2021</div>
<div class="a xl" style="left:395.6px;top:631.8px;letter-spacing:0.7px">2. Halbjahr</div>
<div class="a xl" style="left:443.4px;top:669px;letter-spacing:-0.933px">2021</div>
<div class="a xl" style="left:632.5px;top:631.4px;letter-spacing:-0.333px">2022</div>
<div class="a xl" style="left:778.2px;top:631.3px;letter-spacing:0.757px">2023 und</div>
<div class="a xl" style="left:802px;top:669px;letter-spacing:0.94px">später</div>

<div class="box"></div>
<div class="a bt" style="left:576.6px;top:219.1px;letter-spacing:1.15px;transform:scaleX(1.1046)">Mehr</div>
<div class="a bt" style="left:671.0px;top:219.1px;letter-spacing:1.15px;transform:scaleX(0.9916)">als</div>
<div class="a bt" style="left:724.7px;top:219.1px;letter-spacing:1.15px;transform:scaleX(1.1212)">zwei</div>
<div class="a bt" style="left:810.0px;top:219.1px;letter-spacing:1.15px;transform:scaleX(1.0268)">von</div>
<div class="a bt" style="left:876.7px;top:219.1px;letter-spacing:1.15px;transform:scaleX(1.0758)">drei</div>
<div class="a bt" style="left:577.6px;top:257.1px;letter-spacing:1.15px;transform:scaleX(1.0847)">Befragten</div>
<div class="a bt" style="left:745.2px;top:257.1px;letter-spacing:1.15px;transform:scaleX(1.0447)">rechnen</div>
<div class="a bt" style="left:881.1px;top:257.1px;letter-spacing:1.15px;transform:scaleX(1.1757)">mit</div>
<div class="a bt" style="left:577.0px;top:296.0px;letter-spacing:1.15px;transform:scaleX(1.0878)">konjunktureller</div>
<div class="a bt" style="left:835.9px;top:296.0px;letter-spacing:1.15px;transform:scaleX(1.0483)">Erholung</div>
<div class="a bt" style="left:578.0px;top:334.0px;letter-spacing:1.15px;transform:scaleX(1.0565)">nicht</div>
<div class="a bt" style="left:667.7px;top:334.0px;letter-spacing:1.15px;transform:scaleX(1.0596)">vor</div>
<div class="a bt" style="left:731.2px;top:334.0px;letter-spacing:1.15px;transform:scaleX(1.0726)">H2/2021</div>
</body></html>
